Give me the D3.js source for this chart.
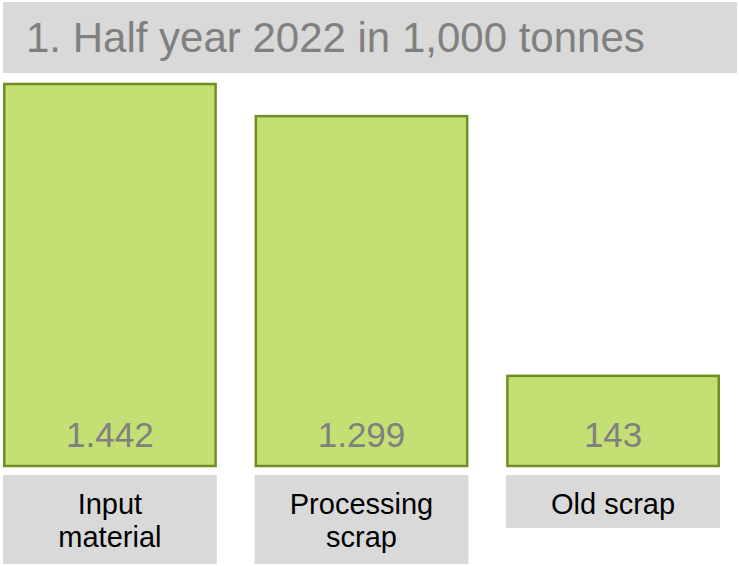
<!DOCTYPE html>
<html>
<head>
<meta charset="utf-8">
<script src="https://cdn.jsdelivr.net/npm/d3@7"></script>
<style>
  html, body { margin: 0; padding: 0; background: #ffffff; }
  svg { display: block; font-family: Arial, "Liberation Sans", sans-serif; }
</style>
</head>
<body>
<script>
// Data: first half of 2022, in 1,000 tonnes
const titleText = "1. Half year 2022 in 1,000 tonnes";
const categories = ["Input material", "Processing scrap", "Old scrap"];
const categoryLines = [["Input", "material"], ["Processing", "scrap"], ["Old scrap"]];
const values = [1442, 1299, 143];
const valueLabels = ["1.442", "1.299", "143"];

const W = 739, H = 566;
const svg = d3.select("body").append("svg").attr("width", W).attr("height", H);

// Title banner
svg.append("rect").attr("x", 3).attr("y", 2).attr("width", 734).attr("height", 71).attr("fill", "#d9d9d9");
svg.append("text").attr("x", 26).attr("y", 52).attr("font-size", 42).attr("fill", "#808080").text(titleText);

// Scales
const x = d3.scaleBand().domain(categories).range([3, 720]).paddingInner(0.15);
const baseY = 466;
const y = d3.scaleLinear().domain([0, d3.max(values)]).range([408, 84]);

// Bars
const bars = svg.append("g").selectAll("g").data(categories).join("g");
bars.append("rect")
  .attr("x", d => x(d) + 1.25)
  .attr("y", (d, i) => y(values[i]))
  .attr("width", x.bandwidth() - 2.5)
  .attr("height", (d, i) => baseY - y(values[i]))
  .attr("fill", "#c4df73")
  .attr("stroke", "#6f8f22")
  .attr("stroke-width", 2.5);

// Value labels inside bars
bars.append("text")
  .attr("x", d => x(d) + x.bandwidth() / 2)
  .attr("y", 447)
  .attr("text-anchor", "middle")
  .attr("font-size", 35)
  .attr("fill", "#808080")
  .text((d, i) => valueLabels[i]);

// Category boxes
const boxTop = 475;
bars.append("rect")
  .attr("x", d => x(d))
  .attr("y", boxTop)
  .attr("width", x.bandwidth())
  .attr("height", (d, i) => categoryLines[i].length > 1 ? 89 : 53)
  .attr("fill", "#d9d9d9");

bars.each(function(d, i) {
  const g = d3.select(this);
  categoryLines[i].forEach((line, j) => {
    g.append("text")
      .attr("x", x(d) + x.bandwidth() / 2)
      .attr("y", boxTop + 39 + j * 33)
      .attr("text-anchor", "middle")
      .attr("font-size", 29)
      .attr("fill", "#000000")
      .text(line);
  });
});
</script>
</body>
</html>
